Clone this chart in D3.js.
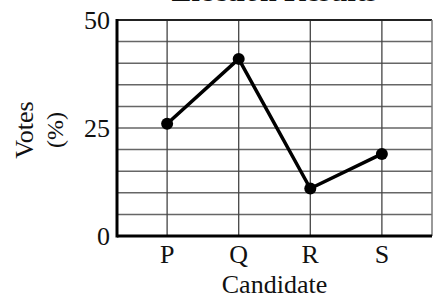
<!DOCTYPE html>
<html lang="en">
<head>
  <meta charset="UTF-8">
  <title>Election Results</title>
  <script src="https://cdn.jsdelivr.net/npm/d3@7"></script>
  <style>
    body { margin: 0; background: #fff; }
    text { font-family: "Liberation Serif", "DejaVu Serif", serif; fill: #111; }
  </style>
</head>
<body>
<div id="chart"></div>
<script type="text/javascript">
  // chart data
  var candidates = ["P", "Q", "R", "S"];
  var votes = [26, 41, 11, 19];
  var yTicks = [0, 25, 50];
  var yGrid = [5, 10, 15, 20, 25, 30, 35, 40, 45];

  var width = 433, height = 299;
  // plot box (note: "top" is reserved on window, so use other names)
  var plotLeft = 117, plotRight = 432, plotTop = 20, plotBottom = 236;

  var svg = d3.select("#chart").append("svg")
    .attr("width", width)
    .attr("height", height);

  var x = d3.scalePoint().domain(candidates).range([plotLeft, plotRight]).padding(0.7);
  var y = d3.scaleLinear().domain([0, 50]).range([plotBottom, plotTop]);

  // title, mostly cut off at the top edge
  svg.append("text")
    .attr("x", (plotLeft + plotRight) / 2)
    .attr("y", 1)
    .attr("text-anchor", "middle")
    .style("font-size", "30px")
    .style("font-weight", "bold")
    .attr("fill", "#555")
    .text("Election Results");

  // horizontal grid
  svg.append("g").selectAll("line")
    .data(yGrid)
    .enter().append("line")
    .attr("x1", plotLeft).attr("x2", plotRight)
    .attr("y1", function(d) { return y(d); })
    .attr("y2", function(d) { return y(d); })
    .attr("stroke", "#666")
    .attr("stroke-width", 1.5);

  // vertical grid
  svg.append("g").selectAll("line")
    .data(candidates)
    .enter().append("line")
    .attr("x1", function(d) { return x(d); })
    .attr("x2", function(d) { return x(d); })
    .attr("y1", plotTop).attr("y2", plotBottom)
    .attr("stroke", "#444")
    .attr("stroke-width", 1.3);

  // frame
  svg.append("line").attr("x1", plotLeft).attr("x2", plotRight).attr("y1", plotTop).attr("y2", plotTop)
    .attr("stroke", "#222").attr("stroke-width", 2);
  svg.append("line").attr("x1", plotRight).attr("x2", plotRight).attr("y1", plotTop).attr("y2", plotBottom)
    .attr("stroke", "#777").attr("stroke-width", 1.5);
  svg.append("line").attr("x1", plotLeft).attr("x2", plotLeft).attr("y1", plotTop - 1).attr("y2", plotBottom + 1.5)
    .attr("stroke", "#000").attr("stroke-width", 3);
  svg.append("line").attr("x1", plotLeft).attr("x2", plotRight).attr("y1", plotBottom).attr("y2", plotBottom)
    .attr("stroke", "#000").attr("stroke-width", 3);

  // y tick labels
  svg.append("g").selectAll("text")
    .data(yTicks)
    .enter().append("text")
    .attr("x", plotLeft - 7)
    .attr("y", function(d) { return y(d) + 9; })
    .attr("text-anchor", "end")
    .style("font-size", "26px")
    .text(function(d) { return d; });

  // x tick labels
  svg.append("g").selectAll("text")
    .data(candidates)
    .enter().append("text")
    .attr("x", function(d) { return x(d); })
    .attr("y", 263)
    .attr("text-anchor", "middle")
    .style("font-size", "26px")
    .text(function(d) { return d; });

  // axis titles
  svg.append("text")
    .attr("x", (plotLeft + plotRight) / 2)
    .attr("y", 293)
    .attr("text-anchor", "middle")
    .style("font-size", "26px")
    .text("Candidate");

  svg.append("text")
    .attr("transform", "translate(33,130) rotate(-90)")
    .attr("text-anchor", "middle")
    .style("font-size", "26px")
    .text("Votes");
  svg.append("text")
    .attr("transform", "translate(63,130) rotate(-90)")
    .attr("text-anchor", "middle")
    .style("font-size", "24px")
    .text("(%)");

  // the line and its points
  var line = d3.line()
    .x(function(d, i) { return x(candidates[i]); })
    .y(function(d) { return y(d); });

  svg.append("path")
    .datum(votes)
    .attr("d", line)
    .attr("fill", "none")
    .attr("stroke", "#000")
    .attr("stroke-width", 3.5)
    .attr("stroke-linejoin", "round");

  svg.append("g").selectAll("circle")
    .data(votes)
    .enter().append("circle")
    .attr("cx", function(d, i) { return x(candidates[i]); })
    .attr("cy", function(d) { return y(d); })
    .attr("r", 6)
    .attr("fill", "#000");
</script>
</body>
</html>
